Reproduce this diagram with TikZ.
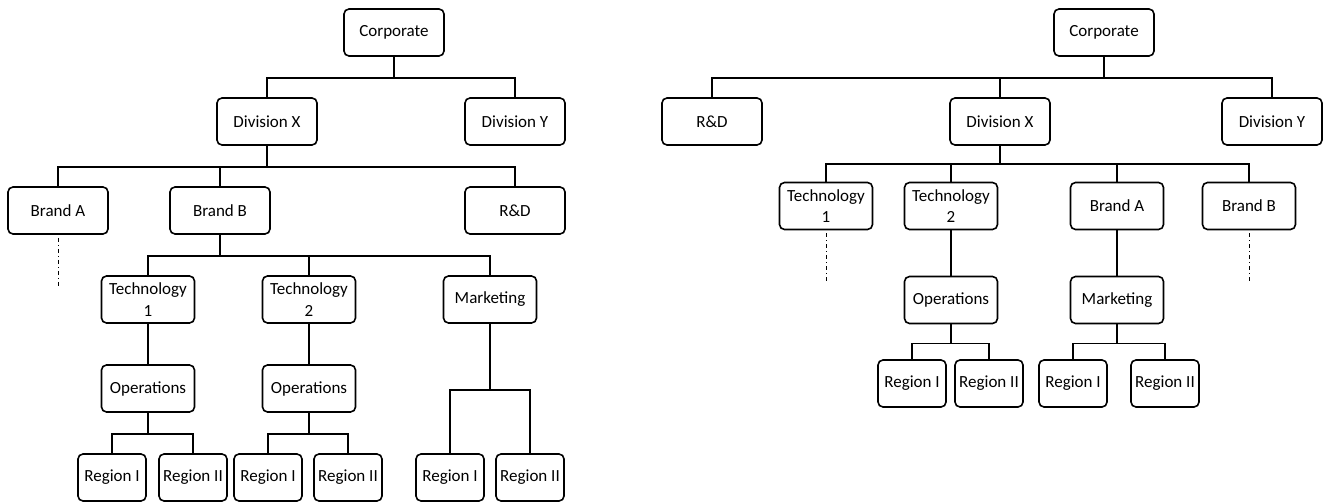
\documentclass[tikz,border=0pt]{standalone}
\usepackage{fontspec}
\setmainfont{Carlito}
\begin{document}
\begin{tikzpicture}[node distance=89pt, line width=1.6pt,
  org box/.style={draw,rounded corners=5pt,minimum height=47pt,inner sep=2pt,align=center,font=\fontsize{17}{21.5}\selectfont},
  big node/.style={org box,minimum width=100pt},
  mid node/.style={org box,minimum width=93pt},
  small node/.style={org box,minimum width=68pt},
  dots/.style={line width=0.9pt,dash pattern=on 4pt off 3pt on 1pt off 3pt}]%
  \useasboundingbox (0,0) rectangle (1327pt,-502pt);

  % left chart
  \node[big node] (corpL) at (394pt,-32.5pt) {Corporate};
  \node[big node] (divxL) [below of=corpL, xshift=-127pt] {Division X};
  \node[big node] (divyL) [below of=corpL, xshift=121pt] {Division Y};
  \draw (corpL.south) -- ++(0,-21pt) -| (divxL.north);
  \draw (corpL.south) -- ++(0,-21pt) -| (divyL.north);

  \node[big node] (brandaL) [below of=divxL, xshift=-209pt] {Brand A};
  \node[big node] (brandbL) [below of=divxL, xshift=-47pt] {Brand B};
  \node[big node] (rdL) [below of=divxL, xshift=248pt] {R\&D};
  \draw (divxL.south) -- ++(0,-21pt) -| (brandaL.north);
  \draw (divxL.south) -- ++(0,-21pt) -| (brandbL.north);
  \draw (divxL.south) -- ++(0,-21pt) -| (rdL.north);
  \path (brandaL.south) ++(0,-3pt) coordinate (dotsAtop) ++(0,-48pt) coordinate (dotsAend);
  \draw[dots] (dotsAtop) -- (dotsAend);

  \node[mid node] (tech1L) [below of=brandbL, xshift=-72pt] {Technology\\1};
  \node[mid node] (tech2L) [below of=brandbL, xshift=89pt] {Technology\\2};
  \node[mid node] (mktL) [below of=brandbL, xshift=270pt] {Marketing};
  \draw (brandbL.south) -- ++(0,-21pt) -| (tech1L.north);
  \draw (brandbL.south) -- ++(0,-21pt) -| (tech2L.north);
  \draw (brandbL.south) -- ++(0,-21pt) -| (mktL.north);

  \node[mid node] (ops1L) [below of=tech1L] {Operations};
  \node[mid node] (ops2L) [below of=tech2L] {Operations};
  \draw (tech1L) -- (ops1L);
  \draw (tech2L) -- (ops2L);

  \node[small node] (r11L) [below of=ops1L, xshift=-36pt] {Region I};
  \node[small node] (r12L) [below of=ops1L, xshift=45pt] {Region II};
  \node[small node] (r21L) [below of=ops2L, xshift=-41pt] {Region I};
  \node[small node] (r22L) [below of=ops2L, xshift=39pt] {Region II};
  \node[small node] (r31L) [below of=mktL, yshift=-89pt, xshift=-40pt] {Region I};
  \node[small node] (r32L) [below of=mktL, yshift=-89pt, xshift=40pt] {Region II};
  \draw (ops1L.south) -- ++(0,-21pt) -| (r11L.north);
  \draw (ops1L.south) -- ++(0,-21pt) -| (r12L.north);
  \draw (ops2L.south) -- ++(0,-21pt) -| (r21L.north);
  \draw (ops2L.south) -- ++(0,-21pt) -| (r22L.north);
  \draw (mktL.south) -- ++(0,-66pt) -| (r31L.north);
  \draw (mktL.south) -- ++(0,-66pt) -| (r32L.north);

  % right chart
  \node[big node] (corpR) at (1104pt,-32.5pt) {Corporate};
  \node[big node] (rdR) [below of=corpR, xshift=-392pt] {R\&D};
  \node[big node] (divxR) [below of=corpR, xshift=-104pt] {Division X};
  \node[big node] (divyR) [below of=corpR, xshift=168pt] {Division Y};
  \draw (corpR.south) -- ++(0,-21pt) -| (rdR.north);
  \draw (corpR.south) -- ++(0,-21pt) -| (divxR.north);
  \draw (corpR.south) -- ++(0,-21pt) -| (divyR.north);

  \node[mid node] (tech1R) [below of=divxR, yshift=4.5pt, xshift=-174pt] {Technology\\1};
  \node[mid node] (tech2R) [below of=divxR, yshift=4.5pt, xshift=-49pt] {Technology\\2};
  \node[mid node] (brandaR) [below of=divxR, yshift=4.5pt, xshift=117pt] {Brand A};
  \node[mid node] (brandbR) [below of=divxR, yshift=4.5pt, xshift=249pt] {Brand B};
  \draw (divxR.south) -- ++(0,-18.5pt) -| (tech1R.north);
  \draw (divxR.south) -- ++(0,-18.5pt) -| (tech2R.north);
  \draw (divxR.south) -- ++(0,-18.5pt) -| (brandaR.north);
  \draw (divxR.south) -- ++(0,-18.5pt) -| (brandbR.north);
  \path (tech1R.south) ++(0,-3pt) coordinate (dotsTtop) ++(0,-50pt) coordinate (dotsTend);
  \path (brandbR.south) ++(0,-3pt) coordinate (dotsBtop) ++(0,-50pt) coordinate (dotsBend);
  \draw[dots] (dotsTtop) -- (dotsTend);
  \draw[dots] (dotsBtop) -- (dotsBend);

  \node[mid node] (opsR) [below of=tech2R, yshift=-5pt] {Operations};
  \node[mid node] (mktR) [below of=brandaR, yshift=-5pt] {Marketing};
  \draw (tech2R) -- (opsR);
  \draw (brandaR) -- (mktR);

  \node[small node] (r11R) [below of=opsR, yshift=5.5pt, xshift=-39pt] {Region I};
  \node[small node] (r12R) [below of=opsR, yshift=5.5pt, xshift=38pt] {Region II};
  \node[small node] (r21R) [below of=mktR, yshift=5.5pt, xshift=-44pt] {Region I};
  \node[small node] (r22R) [below of=mktR, yshift=5.5pt, xshift=48pt] {Region II};
  \draw (opsR.south) -- ++(0,-19pt) -| (r11R.north);
  \draw (opsR.south) -- ++(0,-19pt) -| (r12R.north);
  \draw (mktR.south) -- ++(0,-19pt) -| (r21R.north);
  \draw (mktR.south) -- ++(0,-19pt) -| (r22R.north);
\end{tikzpicture}
\end{document}
